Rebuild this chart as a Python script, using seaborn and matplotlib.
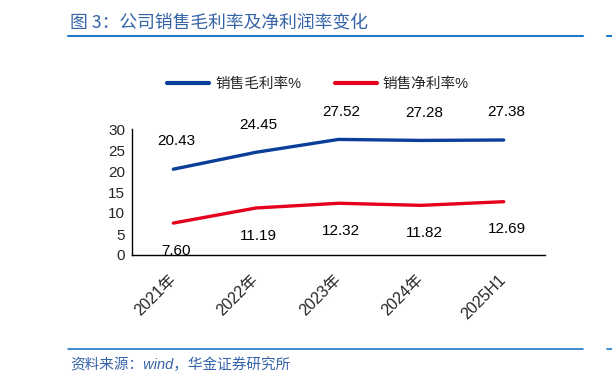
import matplotlib
matplotlib.use("Agg")
import matplotlib.pyplot as plt
import matplotlib.transforms as mtrans
from matplotlib.lines import Line2D
import seaborn as sns
import pandas as pd

# data
periods = ["2021年", "2022年", "2023年", "2024年", "2025H1"]
gross_margin = [20.43, 24.45, 27.52, 27.28, 27.38]
net_margin = [7.60, 11.19, 12.32, 11.82, 12.69]
series_names = ["销售毛利率%", "销售净利率%"]
y_ticks = [0, 5, 10, 15, 20, 25, 30]
title_text = "图 3：公司销售毛利率及净利润率变化"
source_text = "资料来源：wind，华金证券研究所"

BLUE = "#0b3e98"
RED = "#e6001f"
RULE = "#1c78c8"
TXT_BLUE = "#3563a8"

sns.set_theme(style="white")
plt.rcParams["font.family"] = ["Liberation Sans", "Noto Sans CJK SC", "DejaVu Sans"]

df = pd.DataFrame({
    "period": periods * 2,
    "x": list(range(len(periods))) * 2,
    "value": gross_margin + net_margin,
    "series": [series_names[0]] * len(periods) + [series_names[1]] * len(periods),
})

fig = plt.figure(figsize=(6.12, 3.86), dpi=100)
ax = fig.add_axes([132 / 612, 1 - 255 / 386, (545 - 132) / 612, (255 - 129) / 386])

sns.lineplot(data=df, x="x", y="value", hue="series", palette=[BLUE, RED],
             linewidth=2.4, ax=ax, legend=False)

# data labels
for i, v in enumerate(gross_margin):
    ax.annotate(f"{v:.2f}", (i, v), xytext=(2, 20), textcoords="offset points",
                ha="center", va="center", fontsize=11, color="black")
for i, v in enumerate(net_margin):
    ax.annotate(f"{v:.2f}", (i, v), xytext=(2, -20), textcoords="offset points",
                ha="center", va="center", fontsize=11, color="black")

ax.set_xlim(-0.5, len(periods) - 0.5)
ax.set_ylim(0, 30)
ax.set_yticks(y_ticks)
ax.set_yticklabels([str(t) for t in y_ticks], fontsize=11)
ax.set_xticks(range(len(periods)))
ax.set_xticklabels(periods, fontsize=11.5, rotation=45, ha="right", va="center",
                   rotation_mode="anchor")
offset = mtrans.ScaledTranslation(3 / 100, 0, fig.dpi_scale_trans)
for lbl in ax.get_xticklabels():
    lbl.set_transform(lbl.get_transform() + offset)
ax.set_xticks([i - 0.5 for i in range(len(periods) + 1)], minor=True)
ax.tick_params(axis="x", which="major", length=0, pad=16)
ax.tick_params(axis="x", which="minor", direction="in", length=4, width=1, color="black")
ax.tick_params(axis="y", which="major", direction="out", length=3, width=1, color="black", pad=2)
ax.set_xlabel("")
ax.set_ylabel("")
for s in ["top", "right"]:
    ax.spines[s].set_visible(False)
for s in ["left", "bottom"]:
    ax.spines[s].set_color("black")
    ax.spines[s].set_linewidth(1)

handles = [Line2D([], [], color=BLUE, lw=3), Line2D([], [], color=RED, lw=3)]
fig.legend(handles, series_names, loc="center", bbox_to_anchor=(318 / 612, 1 - 84 / 386),
           ncol=2, frameon=False, fontsize=10.5, handlelength=2.9, handletextpad=0.4,
           columnspacing=2.3)

# header / footer
fig.text(70 / 612, 1 - 23 / 386, title_text, fontsize=12.8, color=TXT_BLUE,
         ha="left", va="center", family=["Noto Sans CJK SC", "DejaVu Sans"])
fig.add_artist(Line2D([68 / 612, 583 / 612], [1 - 36 / 386] * 2, color=RULE, lw=1.5))
fig.add_artist(Line2D([607 / 612, 1.0], [1 - 36 / 386] * 2, color=RULE, lw=1.5))
fig.add_artist(Line2D([68 / 612, 583 / 612], [1 - 349 / 386] * 2, color=RULE, lw=1.2))
fig.add_artist(Line2D([607 / 612, 1.0], [1 - 349 / 386] * 2, color=RULE, lw=1.2))
fig.text(70 / 612, 1 - 365 / 386, source_text, fontsize=10.5, color=TXT_BLUE,
         ha="left", va="center", style="italic")

fig.savefig("out.png", dpi=100, facecolor="white")
